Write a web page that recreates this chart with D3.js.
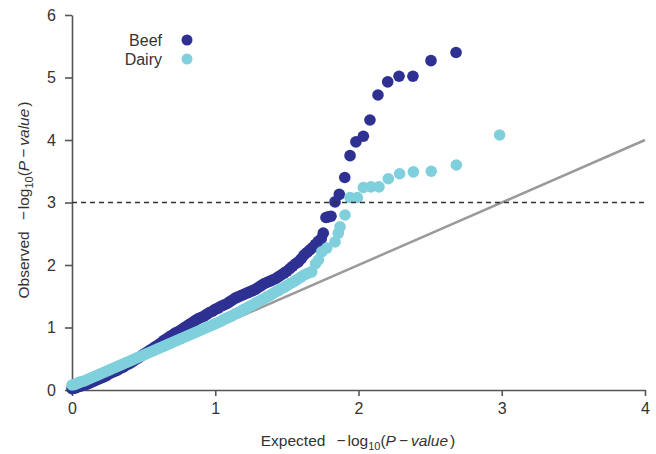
<!DOCTYPE html>
<html>
<head>
<meta charset="utf-8">
<script src="https://cdn.jsdelivr.net/npm/d3@7"></script>
<style>
  body { margin: 0; background: #fff; }
  svg { font-family: "Liberation Sans", Arial, sans-serif; }
</style>
</head>
<body>
<svg id="chart" width="656" height="454"></svg>
<script>
// expected / observed -log10(p)
const beefPoints = [
    [0.00,0.02],[0.02,0.03],[0.04,0.05],[0.06,0.06],[0.08,0.08],[0.10,0.09],[0.12,0.11],[0.14,0.13],
    [0.16,0.15],[0.18,0.17],[0.20,0.19],[0.22,0.21],[0.24,0.23],[0.26,0.26],[0.28,0.28],[0.30,0.30],
    [0.32,0.32],[0.34,0.35],[0.36,0.37],[0.38,0.40],[0.40,0.42],[0.42,0.45],[0.44,0.48],[0.46,0.51],
    [0.48,0.54],[0.50,0.57],[0.52,0.60],[0.54,0.63],[0.56,0.66],[0.58,0.69],[0.60,0.72],[0.62,0.75],
    [0.64,0.79],[0.66,0.82],[0.68,0.85],[0.70,0.88],[0.72,0.91],[0.74,0.93],[0.76,0.96],[0.78,0.99],
    [0.80,1.02],[0.82,1.05],[0.84,1.08],[0.86,1.11],[0.88,1.14],[0.90,1.16],[0.92,1.18],[0.94,1.21],
    [0.96,1.24],[0.98,1.26],[1.00,1.29],[1.02,1.31],[1.04,1.34],[1.06,1.36],[1.08,1.38],[1.10,1.41],
    [1.12,1.44],[1.14,1.47],[1.16,1.49],[1.18,1.51],[1.20,1.53],[1.22,1.55],[1.24,1.57],[1.26,1.59],
    [1.28,1.61],[1.30,1.64],[1.32,1.67],[1.34,1.70],[1.36,1.72],[1.38,1.74],[1.40,1.76],[1.42,1.78],
    [1.44,1.81],[1.46,1.84],[1.48,1.87],[1.50,1.90],[1.52,1.94],[1.54,1.98],[1.56,2.02],[1.58,2.05],
    [1.60,2.10],[1.62,2.16],[1.64,2.20],[1.66,2.24],[1.68,2.28],[1.70,2.33],[1.72,2.38],[1.74,2.42],
    [1.754,2.51],[1.773,2.76],[1.789,2.77],[1.808,2.78],
    [1.836,3.01],[1.866,3.13],[1.904,3.40],[1.941,3.75],[1.982,3.97],[2.034,4.06],[2.080,4.32],
    [2.136,4.72],[2.204,4.93],[2.283,5.02],[2.380,5.02],[2.506,5.27],[2.681,5.40]
];

const dairyPoints = [
    [0.00,0.08],[0.02,0.09],[0.04,0.11],[0.06,0.13],[0.08,0.14],[0.10,0.16],[0.12,0.18],[0.14,0.20],
    [0.16,0.22],[0.18,0.24],[0.20,0.26],[0.22,0.28],[0.24,0.30],[0.26,0.32],[0.28,0.34],[0.30,0.36],
    [0.32,0.38],[0.34,0.40],[0.36,0.42],[0.38,0.44],[0.40,0.46],[0.42,0.48],[0.44,0.50],[0.46,0.52],
    [0.48,0.54],[0.50,0.56],[0.52,0.58],[0.54,0.60],[0.56,0.62],[0.58,0.64],[0.60,0.66],[0.62,0.68],
    [0.64,0.70],[0.66,0.72],[0.68,0.74],[0.70,0.76],[0.72,0.78],[0.74,0.80],[0.76,0.82],[0.78,0.84],
    [0.80,0.86],[0.82,0.88],[0.84,0.90],[0.86,0.92],[0.88,0.94],[0.90,0.96],[0.92,0.98],[0.94,1.00],
    [0.96,1.02],[0.98,1.04],[1.00,1.06],[1.02,1.08],[1.04,1.10],[1.06,1.13],[1.08,1.15],[1.10,1.17],
    [1.12,1.19],[1.14,1.22],[1.16,1.24],[1.18,1.26],[1.20,1.29],[1.22,1.31],[1.24,1.34],[1.26,1.36],
    [1.28,1.39],[1.30,1.41],[1.32,1.44],[1.34,1.46],[1.36,1.49],[1.38,1.51],[1.40,1.54],[1.42,1.57],
    [1.44,1.59],[1.46,1.62],[1.48,1.64],[1.50,1.67],[1.52,1.70],[1.54,1.72],[1.56,1.75],[1.58,1.78],
    [1.60,1.81],[1.62,1.84],[1.64,1.86],[1.66,1.88],[1.673,1.89],[1.70,2.02],[1.72,2.08],[1.743,2.21],
    [1.778,2.27],[1.836,2.37],[1.859,2.51],[1.871,2.61],[1.906,2.80],[1.941,3.08],[1.992,3.08],
    [2.034,3.24],[2.087,3.25],[2.143,3.25],[2.208,3.38],[2.287,3.46],[2.383,3.49],[2.508,3.50],
    [2.683,3.60],[2.985,4.08]
];

const xTicks = [0, 1, 2, 3, 4];
const yTicks = [0, 1, 2, 3, 4, 5, 6];
const threshold = 3;
const legendNames = ['Beef', 'Dairy'];
const legendColors = ['#2e3192', '#7fd0dc'];

const svg = d3.select('#chart');
const x = d3.scaleLinear().domain([0, 4]).range([72, 645]);
const y = d3.scaleLinear().domain([0, 6]).range([390, 15]);

// axes
const xAxis = svg.append('g')
    .attr('transform', `translate(0,${y(0)})`)
    .call(d3.axisBottom(x).tickValues(xTicks).tickFormat(d3.format('d'))
        .tickSize(6).tickSizeOuter(0).tickPadding(7));

const yAxis = svg.append('g')
    .attr('transform', `translate(${x(0)},0)`)
    .call(d3.axisLeft(y).tickValues(yTicks).tickFormat(d3.format('d'))
        .tickSize(7).tickSizeOuter(0).tickPadding(9));

[xAxis, yAxis].forEach(ax => {
    ax.select('.domain').attr('stroke', '#555').attr('stroke-width', 1.6);
    ax.selectAll('.tick line').attr('stroke', '#555').attr('stroke-width', 1.6);
    ax.selectAll('.tick text')
        .attr('fill', '#333')
        .style('font-size', '16px')
        .style('font-family', '"Liberation Sans", Arial, sans-serif');
});

// reference diagonal
svg.append('line')
    .attr('x1', x(0)).attr('y1', y(0))
    .attr('x2', x(4)).attr('y2', y(4))
    .attr('stroke', '#9a9a9a')
    .attr('stroke-width', 2.5);

const drawSeries = (data, color, cls) => {
    svg.append('g')
        .attr('class', cls)
        .selectAll('circle')
        .data(data)
        .enter().append('circle')
        .attr('cx', d => x(d[0]))
        .attr('cy', d => y(d[1]))
        .attr('r', 5.8)
        .attr('fill', color);
};

drawSeries(beefPoints, legendColors[0], 'beef');
drawSeries(dairyPoints, legendColors[1], 'dairy');

// significance threshold
svg.append('line')
    .attr('x1', x(0)).attr('x2', x(4))
    .attr('y1', y(threshold)).attr('y2', y(threshold))
    .attr('stroke', '#333')
    .attr('stroke-width', 1.5)
    .attr('stroke-dasharray', '5,4');

// legend
const legend = svg.append('g').attr('class', 'legend');
legendNames.forEach((name, i) => {
    const ly = 40 + i * 19;
    legend.append('text')
        .attr('x', 162).attr('y', ly + 6)
        .attr('text-anchor', 'end')
        .attr('fill', '#333')
        .style('font-size', '16px')
        .text(name);
    legend.append('circle')
        .attr('cx', 187).attr('cy', ly)
        .attr('r', 5.5)
        .attr('fill', legendColors[i]);
});

// axis titles with subscript and italics
const writeTitle = (sel, lead) => {
    sel.append('tspan').text(lead);
    sel.append('tspan').attr('dx', 11).text('\u2212');
    sel.append('tspan').attr('dx', 2).text('log');
    sel.append('tspan').attr('dy', 4).style('font-size', '11px').text('10');
    sel.append('tspan').attr('dy', -4).text('(');
    sel.append('tspan').style('font-style', 'italic').text('P');
    sel.append('tspan').attr('dx', 3).text('\u2212');
    sel.append('tspan').attr('dx', 3).style('font-style', 'italic').text('value');
    sel.append('tspan').attr('dx', 2).text(')');
};

const xTitle = svg.append('text')
    .attr('x', 358).attr('y', 446)
    .attr('text-anchor', 'middle')
    .attr('fill', '#333')
    .style('font-size', '15.5px');
writeTitle(xTitle, 'Expected');

const yTitle = svg.append('text')
    .attr('transform', 'translate(29,200) rotate(-90)')
    .attr('text-anchor', 'middle')
    .attr('fill', '#333')
    .style('font-size', '15.5px');
writeTitle(yTitle, 'Observed');
</script>
</body>
</html>
